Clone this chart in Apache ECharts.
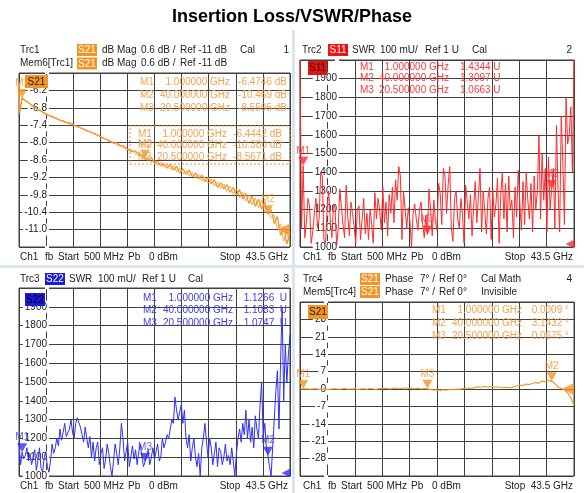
<!DOCTYPE html>
<html>
<head>
<meta charset="utf-8">
<script src="https://cdn.jsdelivr.net/npm/echarts@6.0.0/dist/echarts.min.js"></script>
<style>html,body{margin:0;padding:0;background:#fff}#main{width:584px;height:493px}</style>
</head>
<body>
<div id="main"></div>
<script>
// sweep points (GHz)
var freqs = [0.5, 0.6, 1, 1.5, 2, 2.5, 3, 3.5, 4, 4.5, 5, 5.5, 6, 6.5, 7, 7.5, 8, 8.5, 9, 9.5,
  10, 10.5, 11, 11.5, 12, 12.5, 13, 13.5, 14, 14.5, 15, 15.5, 16, 16.5, 17, 17.5, 18, 18.5, 19, 19.5,
  20, 20.5, 21, 21.5, 22, 22.5, 23, 23.5, 24, 24.5, 25, 25.5, 26, 26.5, 27, 27.5, 28, 28.5, 29, 29.5,
  30, 30.5, 31, 31.5, 32, 32.5, 33, 33.5, 34, 34.5, 35, 35.5, 36, 36.5, 37, 37.5, 38, 38.5, 39, 39.5,
  40, 40.5, 41, 41.5, 42, 42.5, 43, 43.5];
var freqsFine = [0.5, 0.75, 1, 1.25, 1.5, 1.75, 2, 2.25, 2.5, 2.75, 3, 3.25, 3.5, 3.75, 4, 4.25, 4.5, 4.75, 5, 5.25,
  5.5, 5.75, 6, 6.25, 6.5, 6.75, 7, 7.25, 7.5, 7.75, 8, 8.25, 8.5, 8.75, 9, 9.25, 9.5, 9.75, 10, 10.25,
  10.5, 10.75, 11, 11.25, 11.5, 11.75, 12, 12.25, 12.5, 12.75, 13, 13.25, 13.5, 13.75, 14, 14.25, 14.5, 14.75, 15, 15.25,
  15.5, 15.75, 16, 16.25, 16.5, 16.75, 17, 17.25, 17.5, 17.75, 18, 18.25, 18.5, 18.75, 19, 19.25, 19.5, 19.75, 20, 20.25,
  20.5, 20.75, 21, 21.25, 21.5, 21.75, 22, 22.25, 22.5, 22.75, 23, 23.25, 23.5, 23.75, 24, 24.25, 24.5, 24.75, 25, 25.25,
  25.5, 25.75, 26, 26.25, 26.5, 26.75, 27, 27.25, 27.5, 27.75, 28, 28.25, 28.5, 28.75, 29, 29.25, 29.5, 29.75, 30, 30.25,
  30.5, 30.75, 31, 31.25, 31.5, 31.75, 32, 32.25, 32.5, 32.75, 33, 33.25, 33.5, 33.75, 34, 34.25, 34.5, 34.75, 35, 35.25,
  35.5, 35.75, 36, 36.25, 36.5, 36.75, 37, 37.25, 37.5, 37.75, 38, 38.25, 38.5, 38.75, 39, 39.25, 39.5, 39.75, 40, 40.25,
  40.5, 40.75, 41, 41.25, 41.5, 41.75, 42, 42.25, 42.5, 42.75, 43, 43.25, 43.5];

// Trc1 S21 dB Mag
var trc1 = [-5.9, -7.0,
  -6.47, -6.55, -6.62, -6.70, -6.78, -6.84, -6.92, -6.97, -7.05, -7.08,
  -7.12, -7.18, -7.22, -7.26, -7.32, -7.30, -7.38, -7.42, -7.45, -7.52,
  -7.55, -7.60, -7.66, -7.68, -7.75, -7.80, -7.86, -7.90, -7.95, -8.02,
  -8.00, -8.12, -8.10, -8.22, -8.25, -8.32, -8.28, -8.45, -8.42, -8.56,
  -8.60, -8.52, -8.70, -8.66, -8.80, -8.72, -8.88, -8.75, -8.95, -8.82,
  -9.05, -8.90, -9.10, -8.95, -9.18, -9.05, -9.25, -9.12, -9.35, -9.20,
  -9.42, -9.28, -9.55, -9.38, -9.60, -9.45, -9.72, -9.55, -9.82, -9.62,
  -9.95, -9.75, -10.10, -9.85, -10.20, -9.95, -10.30, -10.05, -10.47, -10.30,
  -10.80, -10.55, -11.20, -10.90, -11.50, -11.10];
// Mem6[Trc1]
var mem6 = [-6.0, -6.9,
  -6.44, -6.58, -6.60, -6.74, -6.76, -6.88, -6.90, -7.00, -7.02, -7.10,
  -7.15, -7.16, -7.25, -7.24, -7.30, -7.36, -7.35, -7.45, -7.48, -7.50,
  -7.58, -7.62, -7.63, -7.72, -7.74, -7.83, -7.84, -7.93, -7.98, -7.99,
  -8.08, -8.06, -8.18, -8.16, -8.30, -8.26, -8.40, -8.35, -8.50, -8.57,
  -8.50, -8.68, -8.60, -8.78, -8.68, -8.86, -8.74, -8.92, -8.80, -9.00,
  -8.88, -9.08, -8.96, -9.15, -9.02, -9.22, -9.10, -9.32, -9.18, -9.40,
  -9.25, -9.50, -9.35, -9.58, -9.42, -9.68, -9.50, -9.78, -9.60, -9.90,
  -9.70, -10.02, -9.80, -10.15, -9.92, -10.25, -10.00, -10.40, -10.38, -10.60,
  -10.50, -10.95, -10.80, -11.40, -11.05, -11.55];
// Trc2 S11 SWR (mU), on freqsFine
var trc2 = [2000, 1100, 1434, 1050, 1130, 1260, 1220, 1020, 1080, 1180, 1260, 1100, 1150, 1400, 1380, 1040, 1020, 1200, 1300, 1150,
  1050, 1230, 1210, 1010, 1100, 1310, 1300, 1120, 1050, 1330, 1160, 1060, 1240, 1180, 1110, 1020, 1200, 1220, 1040, 1150,
  1260, 1070, 1180, 1040, 1200, 1120, 1020, 1290, 1150, 1260, 1200, 1090, 1320, 1130, 1240, 1060, 1280, 1180, 1320, 1130,
  1360, 1250, 1430, 1380, 1040, 1300, 1200, 1100, 1210, 1140, 1000, 1180, 1230, 1150, 1090, 1200, 1240, 1120, 1050, 1170,
  1066, 1310, 1200, 1060, 1250, 1140, 1090, 1340, 1290, 1120, 1420, 1380, 1180, 1330, 1430, 1100, 1030, 1260, 1300, 1150,
  1100, 1260, 1170, 1020, 1330, 1240, 1150, 1280, 1060, 1210, 1350, 1130, 1270, 1420, 1080, 1300, 1190, 1070, 1260, 1320,
  1040, 1310, 1160, 1230, 1370, 1020, 1280, 1400, 1150, 1340, 1080, 1380, 1200, 1250, 1050, 1320, 1160, 1410, 1230, 1090,
  1350, 1120, 1400, 1250, 1150, 1340, 1080, 1380, 1200, 1300, 1600, 1150, 1500, 1250, 1420, 1080, 1480, 1200, 1310, 1420,
  1100, 1650, 1300, 1080, 1700, 1450, 1120, 1800, 1550, 1600, 1750, 1400, 2000];
// Trc3 S22 SWR (mU), on freqsFine
var trc3 = [1180, 1060, 1127, 1090, 1110, 1150, 1080, 1120, 1060, 1100, 1140, 1030, 1080, 1150, 1040, 1020, 1100, 1130, 1050, 1020,
  1080, 1170, 1120, 1150, 1200, 1160, 1250, 1190, 1230, 1280, 1210, 1200, 1250, 1300, 1230, 1200, 1280, 1310, 1320, 1260,
  1220, 1180, 1260, 1200, 1150, 1210, 1100, 1180, 1080, 1150, 1180, 1060, 1120, 1150, 1040, 1090, 1170, 1120, 1050, 1000,
  1080, 1170, 1120, 1060, 1150, 1280, 1200, 1080, 1130, 1180, 1050, 1100, 1160, 1090, 1140, 1060, 1130, 1170, 1100, 1050,
  1075, 1110, 1140, 1060, 1100, 1150, 1090, 1130, 1170, 1080, 1100, 1200, 1150, 1180, 1220, 1200, 1250, 1300, 1280, 1420,
  1350, 1300, 1340, 1380, 1280, 1350, 1200, 1150, 1220, 1080, 1150, 1200, 1100, 1050, 1120, 1000, 1150, 1200, 1280, 1180,
  1100, 1200, 1150, 1060, 1120, 1180, 1050, 1150, 1130, 1060, 1100, 1170, 1080, 1110, 1060, 1150, 1080, 1000, 1120, 1200,
  1250, 1180, 1280, 1220, 1350, 1200, 1300, 1180, 1260, 1150, 1320, 1250, 1200, 1380, 1500, 1200, 1280, 1150, 1108, 1050,
  1000, 1150, 1300, 1450, 1560, 1250, 1600, 1900, 1400, 1700, 1500, 1650, 1750];
// Trc4 S21 Phase (deg)
var trc4 = [0.1, -0.1,
  0.0, 0.1, -0.1, 0.0, 0.1, -0.1, 0.0, 0.1, -0.2, 0.0,
  0.1, -0.1, 0.0, 0.2, -0.1, 0.0, 0.1, -0.2, 0.0, 0.1,
  -0.1, 0.2, 0.0, -0.1, 0.2, 0.1, 0.3, 0.0, 0.2, 0.4,
  0.1, 0.3, 0.5, 0.2, 0.4, 0.1, 0.3, 0.0, 0.2, 0.07,
  -0.2, -0.4, -0.3, -0.5, -0.3, -0.4, -0.2, -0.3, 0.0, -0.1,
  0.2, 0.1, 0.4, 0.3, 0.6, 0.9, 0.7, 1.0, 0.8, 1.1,
  0.7, 0.9, 0.6, 0.5, 0.7, 0.4, 0.8, 1.2, 1.6, 1.4,
  2.0, 1.8, 2.3, 2.6, 2.4, 3.2, 3.0, 3.4, 3.14, 2.2,
  0.8, 0.2, -0.3, -1.5, -3.5, -6.5];

// markers
var markerNames = ['M1', 'M2', 'M3'];
var markerFreqs = [1, 40, 20.5];
var markerFreqText = ['1.000000 GHz', '40.000000 GHz', '20.500000 GHz'];
var m1Vals = [-6.4746, -10.469, -8.5595];
var m1Text = ['-6.4746 dB', '-10.469 dB', '-8.5595 dB'];
var mem6Text = ['-6.4442 dB', '-10.380 dB', '-8.5671 dB'];
var m2Vals = [1434.4, 1309.7, 1066.3];
var m2Text = ['1.4344 U', '1.3097 U', '1.0663 U'];
var m3Vals = [1126.6, 1108.3, 1074.7];
var m3Text = ['1.1266  U', '1.1083  U', '1.0747  U'];
var m4Vals = [0.0009, 3.1432, 0.0675];
var m4Text = ['0.0009 \u00b0', '3.1432 \u00b0', '0.0675 \u00b0'];

// tick labels (bottom to top)
var ticks1 = ['', '-11.0', '-10.4', '-9.8', '-9.2', '-8.6', '-8.0', '-7.4', '-6.8', '-6.2', ''];
var ticks2 = ['1000', '1100', '1200', '1300', '1400', '1500', '1600', '1700', '1800', '1900', ''];
var ticks4 = ['', '-28', '-21', '-14', '-7', '0', '7', '14', '21', '28', ''];

var FONT = '"Liberation Sans", Arial, sans-serif';
var ORANGE = '#f39424', ORANGE_T = '#f5a24e';
var RED = '#ff2b2b', RED_T = '#ff3a3a';
var BLUE = '#2f2ff5', BLUE_T = '#3d3de8';
var GRIDC = '#404040';

function pairs(xs, ys) {
  return xs.map(function (x, i) { return [x, ys[i]]; });
}

var g = [];
function t(x, y, s, c, o) {
  o = o || {};
  g.push({ type: 'text', x: x, y: y, z: 101, style: {
    text: s, fill: c || '#222', fontSize: o.size || 10, fontFamily: FONT,
    fontWeight: o.bold ? 'bold' : 'normal', textAlign: o.align || 'left', textVerticalAlign: 'middle' } });
}
function box(x, y, w, h, c, s, tc) {
  g.push({ type: 'rect', z: 100, shape: { x: x, y: y, width: w, height: h }, style: { fill: c } });
  t(x + w / 2, y + h / 2 + 0.5, s, tc, { align: 'center' });
}

// title + separators
t(292, 17, 'Insertion Loss/VSWR/Phase', '#000', { size: 18, bold: true, align: 'center' });
g.push({ type: 'rect', z: 90, shape: { x: 292, y: 30, width: 3, height: 463 }, style: { fill: '#dce4ee' } });
g.push({ type: 'rect', z: 90, shape: { x: 0, y: 265, width: 584, height: 3 }, style: { fill: '#dce4ee' } });

// panel 1 header
t(20, 50, 'Trc1'); box(77, 44, 20, 12, ORANGE, 'S21', '#fff');
t(102, 50, 'dB Mag'); t(141, 50, '0.6 dB /'); t(180, 50, 'Ref -11 dB'); t(240, 50, 'Cal'); t(289, 50, '1', null, { align: 'right' });
t(20, 63.5, 'Mem6[Trc1]'); box(77, 57.5, 20, 12, ORANGE, 'S21', '#fff');
t(102, 63.5, 'dB Mag'); t(141, 63.5, '0.6 dB /'); t(180, 63.5, 'Ref -11 dB');
// panel 2 header
t(302, 50, 'Trc2'); box(328, 44, 20, 12, '#f01010', 'S11', '#fff');
t(352, 50, 'SWR'); t(380, 50, '100 mU/'); t(425, 50, 'Ref 1 U'); t(472, 50, 'Cal'); t(572, 50, '2', null, { align: 'right' });
// panel 3 header
t(20, 279, 'Trc3'); box(45, 273, 20, 12, '#1a1ae0', 'S22', '#fff');
t(69, 279, 'SWR'); t(98, 279, '100 mU/'); t(142, 279, 'Ref 1 U'); t(188, 279, 'Cal'); t(289, 279, '3', null, { align: 'right' });
// panel 4 header
t(303, 279, 'Trc4'); box(360, 273, 20, 12, ORANGE, 'S21', '#fff');
t(385, 279, 'Phase'); t(420, 279, '7\u00b0 /'); t(439, 279, 'Ref 0\u00b0'); t(481, 279, 'Cal Math'); t(572, 279, '4', null, { align: 'right' });
t(303, 292, 'Mem5[Trc4]'); box(360, 286, 20, 12, ORANGE, 'S21', '#fff');
t(385, 292, 'Phase'); t(420, 292, '7\u00b0 /'); t(439, 292, 'Ref 0\u00b0'); t(481, 292, 'Invisible');

// footers
function footer(x0, y, right) {
  t(x0, y, 'Ch1'); t(x0 + 25, y, 'fb'); t(x0 + 38, y, 'Start'); t(x0 + 64, y, '500 MHz');
  t(x0 + 108, y, 'Pb'); t(x0 + 129, y, '0 dBm'); t(right, y, 'Stop  43.5 GHz', null, { align: 'right' });
}
footer(20, 257, 288); footer(303, 257, 573); footer(20, 486, 288); footer(303, 486, 573);

// trace labels inside diagrams
box(25, 75, 23, 13, ORANGE, 'S21', '#222');
box(308, 61, 19, 14, '#e81010', 'S11', '#111');
box(25, 293, 20, 13, '#1a1ae0', 'S22', '#001');
box(308, 305, 20, 14, ORANGE, 'S21', '#222');

// marker tables
var rows1 = [82, 95, 108], rowsMem = [134, 145.5, 157], rows2 = [67, 78.5, 90], rows3 = [298, 310.5, 323], rows4 = [310, 323, 336];
g.push({ type: 'rect', z: 99, shape: { x: 130, y: 126, width: 160, height: 38 },
  style: { fill: 'none', stroke: ORANGE, lineWidth: 1, lineDash: [2, 2] } });
for (var i = 0; i < 3; i++) {
  t(140, rows1[i], markerNames[i], ORANGE_T); t(230, rows1[i], markerFreqText[i], ORANGE_T, { align: 'right' }); t(287, rows1[i], m1Text[i], ORANGE_T, { align: 'right' });
  t(138, rowsMem[i], markerNames[i], ORANGE_T); t(227, rowsMem[i], markerFreqText[i], ORANGE_T, { align: 'right' }); t(282, rowsMem[i], mem6Text[i], ORANGE_T, { align: 'right' });
  t(360, rows2[i], markerNames[i], RED_T); t(449, rows2[i], markerFreqText[i], RED_T, { align: 'right' }); t(460, rows2[i], m2Text[i], RED_T);
  t(143, rows3[i], markerNames[i], BLUE_T); t(233, rows3[i], markerFreqText[i], BLUE_T, { align: 'right' }); t(287, rows3[i], m3Text[i], BLUE_T, { align: 'right' });
  t(432, rows4[i], markerNames[i], ORANGE_T); t(522, rows4[i], markerFreqText[i], ORANGE_T, { align: 'right' }); t(569, rows4[i], m4Text[i], ORANGE_T, { align: 'right' });
}

var grids = [
  { left: 19, top: 73, width: 271, height: 174 },
  { left: 300, top: 60, width: 274, height: 187 },
  { left: 19, top: 288, width: 271, height: 188 },
  { left: 300, top: 302, width: 274, height: 174 }
];
grids.forEach(function (gr) { gr.show = true; gr.borderColor = GRIDC; gr.borderWidth = 1; gr.backgroundColor = 'transparent'; });

var xAxes = [];
for (var k = 0; k < 4; k++) {
  xAxes.push({ gridIndex: k, type: 'value', min: 0, max: 10, interval: 1, z: 0,
    axisLine: { show: false }, axisTick: { show: false }, axisLabel: { show: false },
    splitLine: { show: true, lineStyle: { color: GRIDC, width: 1 } } });
  xAxes.push({ gridIndex: k, type: 'value', min: 0.5, max: 43.5, show: false });
}

function yLabel(arr, margin) {
  return { inside: true, align: 'right', margin: margin, color: '#222', fontSize: 10, fontFamily: FONT,
    backgroundColor: '#fff', padding: [1, 2],
    formatter: function (v, idx) { return arr[idx] || ''; } };
}
var yBase = { type: 'value', z: 1, axisLine: { show: false }, axisTick: { show: false },
  splitLine: { show: true, lineStyle: { color: GRIDC, width: 1 } } };
var yAxes = [
  Object.assign({}, yBase, { gridIndex: 0, min: 0, max: 10, interval: 1, axisLabel: yLabel(ticks1, 30) }),
  { gridIndex: 0, type: 'value', min: -11.6, max: -5.6, show: false },
  Object.assign({}, yBase, { gridIndex: 1, min: 1000, max: 2000, interval: 100, axisLabel: yLabel(ticks2, 39) }),
  Object.assign({}, yBase, { gridIndex: 2, min: 1000, max: 2000, interval: 100, axisLabel: yLabel(ticks2, 30) }),
  Object.assign({}, yBase, { gridIndex: 3, min: -35, max: 35, interval: 7, axisLabel: yLabel(ticks4, 28) })
];

function trace(xi, yi, data, color, width, opacity) {
  return { type: 'line', xAxisIndex: xi, yAxisIndex: yi, data: data, showSymbol: false, z: 2,
    lineStyle: { color: color, width: width, opacity: opacity || 1 }, itemStyle: { color: color } };
}
function markers(xi, yi, vals, color) {
  return { type: 'scatter', xAxisIndex: xi, yAxisIndex: yi, data: pairs(markerFreqs, vals), clip: false, z: 4,
    symbol: 'triangle', symbolRotate: 180, symbolSize: [10, 9], symbolOffset: [0, -4.5],
    itemStyle: { color: color },
    label: { show: true, position: 'top', distance: 1, color: color, fontSize: 10, fontFamily: FONT,
      formatter: function (p) { return markerNames[p.dataIndex]; } } };
}
function refMark(xi, yi, point, color, size, off) {
  return { type: 'scatter', xAxisIndex: xi, yAxisIndex: yi, data: [point], clip: false, z: 4,
    symbol: 'triangle', symbolRotate: 90, symbolSize: size, symbolOffset: off, itemStyle: { color: color } };
}

var series = [
  trace(1, 1, pairs(freqs, mem6), ORANGE, 1, 0.8),
  trace(1, 1, pairs(freqs, trc1), ORANGE, 1.2),
  markers(1, 1, m1Vals, ORANGE),
  refMark(1, 1, [43.5, -11], ORANGE, 12, [-6, 0]),
  trace(3, 2, pairs(freqsFine, trc2), RED, 1),
  markers(3, 2, m2Vals, RED),
  refMark(3, 2, [43.5, 1000], RED, 9, [-4, -3]),
  trace(5, 3, pairs(freqsFine, trc3), BLUE, 1),
  markers(5, 3, m3Vals, BLUE),
  refMark(5, 3, [43.5, 1000], BLUE, 9, [-4, -3]),
  trace(7, 4, pairs(freqs, trc4), ORANGE, 1.2),
  markers(7, 4, m4Vals, ORANGE),
  refMark(7, 4, [43.5, 0], ORANGE, 12, [-6, 0])
];

var chart = echarts.init(document.getElementById('main'), null, { renderer: 'canvas' });
chart.setOption({
  animation: false,
  backgroundColor: '#fff',
  grid: grids,
  xAxis: xAxes,
  yAxis: yAxes,
  series: series,
  graphic: { elements: g }
});
</script>
</body>
</html>
